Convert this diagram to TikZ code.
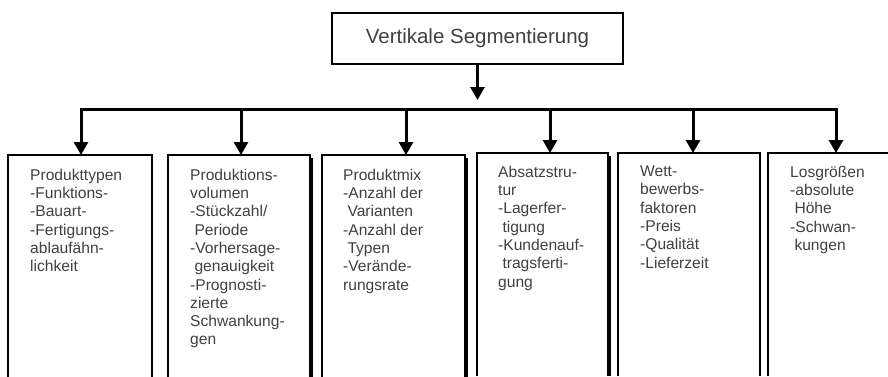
\documentclass[tikz,border=0pt]{standalone}
\usepackage{fontspec}
\setmainfont{Liberation Sans}
\usetikzlibrary{arrows.meta,calc}
\definecolor{txt}{HTML}{404040}
\newcommand{\ind}{\hspace*{4.3pt}}
\begin{document}
\begin{tikzpicture}[x=1pt,y=-1pt,
  conn/.style={line width=3pt,-{Triangle[width=14pt,length=13pt]}},
  segbox/.style={draw,line width=2pt,inner sep=0pt,outer sep=0pt,anchor=north west,minimum height=223pt},
  openbox/.style={segbox,draw=none},
  shade/.style={line width=2.5pt},
  seglabel/.style={anchor=north west,inner sep=0pt,align=left,text=txt,font=\fontsize{15.6}{18.3}\selectfont},
  ]
\useasboundingbox (0,0) rectangle (888,376);

% root
\node[draw,line width=1.6pt,minimum width=291pt,minimum height=51pt,inner sep=0pt,
      font=\fontsize{20.5}{24}\selectfont,text=txt] (title) at (477.5,38.5) {Vertikale Segmentierung};

% segment boxes, open at the bottom margin
\node[openbox,minimum width=144pt] (b1) at (8,155) {};
\node[openbox,minimum width=142pt] (b2) at (168,155) {};
\node[openbox,minimum width=143pt] (b3) at (322,155) {};
\node[openbox,minimum width=131pt] (b4) at (477,153) {};
\node[openbox,minimum width=142pt] (b5) at (618,153) {};
\node[openbox,minimum width=120pt] (b6) at (768,153) {};
\foreach \b in {b1,b2,b3,b4,b5}
  \draw[line width=2pt] (\b.south west) -- (\b.north west) -- (\b.north east) -- (\b.south east);
\draw[line width=2pt] (b6.south west) -- (b6.north west) -- (b6.north east);

% shadowed right edges
\draw[shade] ($(b2.north east)+(2,3)$) -- ($(b2.south east)+(2,0)$);
\draw[shade] ($(b3.north east)+(2,3)$) -- ($(b3.south east)+(2,0)$);
\draw[shade] ($(b4.north east)+(2,3)$) -- ($(b4.south east)+(2,0)$);

% labels
\node[seglabel] (t1) at (30,168.7) {Produkttypen\\-Funktions-\\-Bauart-\\-Fertigungs-\\ablaufähn-\\lichkeit};
\node[seglabel] (t2) at (190,168.7) {Produktions-\\volumen\\-Stückzahl/\\\ind Periode\\-Vorhersage-\\\ind genauigkeit\\-Prognosti-\\zierte\\Schwankung-\\gen};
\node[seglabel] (t3) at (343,168.7) {Produktmix\\-Anzahl der\\\ind Varianten\\-Anzahl der\\\ind Typen\\-Verände-\\rungsrate};
\node[seglabel] (t4) at (498,165.7) {Absatzstru-\\tur\\-Lagerfer-\\\ind tigung\\-Kundenauf-\\\ind tragsferti-\\gung};
\node[seglabel] (t5) at (640,165.7) {Wett-\\bewerbs-\\faktoren\\-Preis\\-Qualität\\-Lieferzeit};
\node[seglabel] (t6) at (790,165.7) {Losgrößen\\-absolute\\\ind Höhe\\-Schwan-\\\ind kungen};

% connectors
\coordinate (hub) at (477.5,100);
\coordinate (j1) at (81,109);
\coordinate (j2) at (241,109);
\coordinate (j3) at (406,109);
\coordinate (j4) at (550,109);
\coordinate (j5) at (693,109);
\coordinate (j6) at (836,109);

\draw[conn] (title.south) -- (hub);
\draw[conn] (j6) -- (j1) -- (j1 |- b1.north);
\draw[conn] (j1) -- (j6) -- (j6 |- b6.north);
\draw[conn] (j2) -- (j2 |- b2.north);
\draw[conn] (j3) -- (j3 |- b3.north);
\draw[conn] (j4) -- (j4 |- b4.north);
\draw[conn] (j5) -- (j5 |- b5.north);
\end{tikzpicture}
\end{document}
